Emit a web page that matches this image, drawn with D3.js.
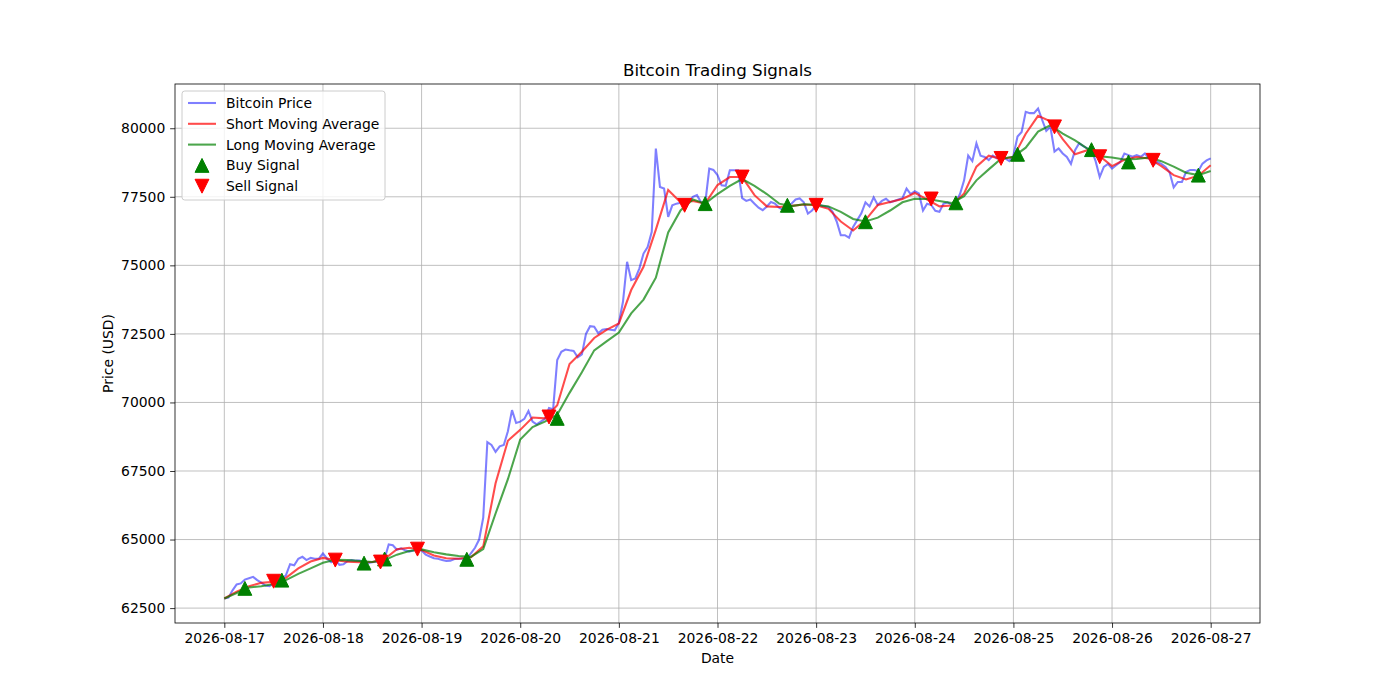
<!DOCTYPE html>
<html>
<head>
<meta charset="utf-8">
<script src="https://cdn.jsdelivr.net/npm/d3@7"></script>
<style>
body { margin: 0; background: #fff; }
text { font-family: "DejaVu Sans", sans-serif; fill: #000; }
</style>
</head>
<body>
<svg id="chart" width="1400" height="700"></svg>
<script>
// hourly data starting 2026-08-17 00:00
const startDate = new Date(2026, 7, 17, 0, 0)

const price = [
  62850, 62880, 63150, 63360, 63400, 63540, 63590, 63640, 63520, 63430, 63320, 63300,
  63400, 63450, 63550, 63700, 64100, 64060, 64300, 64370, 64250, 64330, 64300, 64300,
  64490, 64300, 64170, 64250, 64080, 64100, 64220, 64250, 64230, 64230, 64150, 64150,
  64170, 64200, 64180, 64300, 64820, 64790, 64630, 64680, 64610, 64560, 64600, 64650,
  64600, 64450, 64380, 64320, 64300, 64250, 64220, 64230, 64290, 64300, 64300, 64280,
  64500, 64700, 65000, 65800, 68550, 68450, 68200, 68400, 68450, 68950, 69720, 69250,
  69300, 69400, 69690, 69300, 69200, 69300, 69400, 69800, 69750, 71550, 71850, 71930,
  71900, 71880, 71650, 71750, 72500, 72780, 72760, 72520, 72650, 72680, 72650, 72630,
  72900, 73670, 75130, 74460, 74520, 74890, 75430, 75670, 76220, 79260, 77860, 77800,
  76770, 77190, 77250, 77280, 77220, 77300, 77500, 77560, 77300, 77250, 78530, 78480,
  78290, 77920, 77900, 78470, 78470, 78470, 77450, 77350, 77400, 77250, 77100, 77010,
  77150, 77310, 77250, 77100, 77010, 77190, 77250, 77400, 77440, 77300, 76890, 77000,
  77190, 77190, 77150, 77130, 76950, 76600, 76100, 76100, 76010, 76400, 76650, 76900,
  77300, 77150, 77480, 77200, 77350, 77430, 77300, 77350, 77400, 77450, 77800, 77600,
  77700, 77620, 77000, 77250, 77200, 76990, 76950, 77250, 77300, 77200, 77300, 77600,
  78100, 79000, 78800, 79450, 79000, 78950, 78840, 79000, 78900, 78950, 78900, 78800,
  79000, 79700, 79860, 80600, 80550, 80550, 80720, 80300, 79900, 80050, 79150, 79260,
  79080, 78950, 78700, 79200, 79450, 79350, 79260, 79220, 78800, 78220, 78590, 78700,
  78530, 78650, 78770, 79080, 79020, 78960, 79020, 78960, 79080, 78900, 78650, 78770,
  78700, 78590, 78400, 77840, 78040, 78040, 78400, 78480, 78480, 78440, 78710, 78830,
  78900
]

// moving averages read every 3 hours
const maStep = 3
const shortMA = [
  62850, 63100, 63300, 63420, 63460, 63600, 63950, 64200, 64330, 64250, 64190, 64170,
  64180, 64290, 64650, 64700, 64620, 64420, 64320, 64300, 64350, 64750, 67050, 68600,
  69000, 69450, 69420, 69900, 71400, 71850, 72350, 72650, 72880, 74100, 74950, 76300,
  77750, 77300, 77350, 77250, 77930, 78220, 78220, 77560, 77150, 77130, 77170, 77220,
  77190, 77060, 76600, 76270, 76650, 77200, 77310, 77420, 77640, 77400, 77150, 77180,
  77620, 78600, 79000, 78880, 78950, 79800, 80450, 80250, 79600, 79050, 79200, 78980,
  78620, 78850, 78950, 78900, 78620, 78290, 78130, 78270, 78650
]
const longMA = [
  62850, 63050, 63250, 63300, 63380, 63520, 63750, 63950, 64150, 64260, 64250, 64220,
  64180, 64250, 64450, 64580, 64640, 64540, 64460, 64400, 64370, 64650, 65950, 67200,
  68650, 69100, 69300, 69550, 70350, 71100, 71900, 72230, 72550, 73250, 73750, 74550,
  76200, 77000, 77400, 77250, 77600, 77900, 78150, 77900, 77600, 77250, 77160, 77230,
  77210, 77150, 76950, 76690, 76600, 76740, 77000, 77300, 77430, 77420, 77350, 77270,
  77520, 78100, 78500, 78890, 78960, 79290, 79880, 80110, 79800, 79560, 79260, 78980,
  78930, 78860, 78880, 78930, 78800, 78600, 78380, 78290, 78440
]

// signals: hour offset and value
const buyHours = [5, 14, 34, 39, 59, 81, 117, 137, 156, 178, 193, 211, 220, 237]
const buyValues = [63220, 63520, 64140, 64290, 64280, 69420, 77250, 77190, 76590, 77280, 79050, 79220, 78770, 78290]
const sellHours = [12, 27, 38, 47, 79, 112, 126, 144, 172, 189, 202, 213, 226]
const sellValues = [63480, 64250, 64180, 64650, 69470, 77190, 78220, 77190, 77420, 78900, 80050, 78960, 78830]

const seriesNames = ['Bitcoin Price', 'Short Moving Average', 'Long Moving Average', 'Buy Signal', 'Sell Signal']

const mLeft = 175, mRight = 1260, mTop = 84, mBottom = 623

const svg = d3.select('#chart')
const hourDate = h => d3.timeHour.offset(startDate, h)

const priceData = price.map((v, i) => ({ t: hourDate(i), v }))
const shortData = shortMA.map((v, i) => ({ t: hourDate(i * maStep), v }))
const longData = longMA.map((v, i) => ({ t: hourDate(i * maStep), v }))
const buyData = buyHours.map((h, i) => ({ t: hourDate(h), v: buyValues[i] }))
const sellData = sellHours.map((h, i) => ({ t: hourDate(h), v: sellValues[i] }))

// matplotlib style 5% margins
const tExt = d3.extent(priceData, d => d.t)
const tPad = (tExt[1] - tExt[0]) * 0.05
const x = d3.scaleTime()
  .domain([new Date(+tExt[0] - tPad), new Date(+tExt[1] + tPad)])
  .range([mLeft, mRight])

const allV = price.concat(shortMA, longMA)
const vMin = d3.min(allV), vMax = d3.max(allV)
const vPad = (vMax - vMin) * 0.05
const y = d3.scaleLinear()
  .domain([vMin - vPad, vMax + vPad])
  .range([mBottom, mTop])

const xTicks = d3.timeDay.range(startDate, d3.timeDay.offset(startDate, 11))
const yTicks = d3.range(62500, 80001, 2500)

// grid
const grid = svg.append('g')
grid.selectAll('.gx').data(xTicks).enter().append('line')
  .attr('x1', d => x(d)).attr('x2', d => x(d))
  .attr('y1', mTop).attr('y2', mBottom)
  .attr('stroke', '#b0b0b0').attr('stroke-width', 0.8)
grid.selectAll('.gy').data(yTicks).enter().append('line')
  .attr('x1', mLeft).attr('x2', mRight)
  .attr('y1', d => y(d)).attr('y2', d => y(d))
  .attr('stroke', '#b0b0b0').attr('stroke-width', 0.8)

// lines
const line = d3.line().x(d => x(d.t)).y(d => y(d.v))
svg.append('path').datum(priceData).attr('d', line)
  .attr('fill', 'none').attr('stroke', 'blue').attr('stroke-opacity', 0.5).attr('stroke-width', 2.08)
svg.append('path').datum(shortData).attr('d', line)
  .attr('fill', 'none').attr('stroke', 'red').attr('stroke-opacity', 0.7).attr('stroke-width', 2.08)
svg.append('path').datum(longData).attr('d', line)
  .attr('fill', 'none').attr('stroke', 'green').attr('stroke-opacity', 0.7).attr('stroke-width', 2.08)

// markers
const ms = 13.9
const upTri = `M0,${-ms / 2}L${ms / 2},${ms / 2}L${-ms / 2},${ms / 2}Z`
const downTri = `M0,${ms / 2}L${ms / 2},${-ms / 2}L${-ms / 2},${-ms / 2}Z`
svg.selectAll('.buy').data(buyData).enter().append('path')
  .attr('d', upTri)
  .attr('transform', d => `translate(${x(d.t)},${y(d.v)})`)
  .attr('fill', 'green').attr('stroke', 'green').attr('stroke-width', 1)
svg.selectAll('.sell').data(sellData).enter().append('path')
  .attr('d', downTri)
  .attr('transform', d => `translate(${x(d.t)},${y(d.v)})`)
  .attr('fill', 'red').attr('stroke', 'red').attr('stroke-width', 1)

// axes
const xAxis = svg.append('g').attr('transform', `translate(0,${mBottom})`)
  .call(d3.axisBottom(x).tickValues(xTicks).tickFormat(d3.timeFormat('%Y-%m-%d')).tickSize(4.86).tickPadding(4.86))
const yAxis = svg.append('g').attr('transform', `translate(${mLeft},0)`)
  .call(d3.axisLeft(y).tickValues(yTicks).tickFormat(d3.format('d')).tickSize(4.86).tickPadding(4.86))
;[xAxis, yAxis].forEach(a => {
  a.select('.domain').remove()
  a.selectAll('.tick line').attr('stroke', '#000').attr('stroke-width', 0.8)
  a.selectAll('.tick text').attr('font-size', 13.9).attr('font-family', 'DejaVu Sans')
})

// frame
svg.append('rect').attr('x', mLeft).attr('y', mTop)
  .attr('width', mRight - mLeft).attr('height', mBottom - mTop)
  .attr('fill', 'none').attr('stroke', '#000').attr('stroke-width', 0.8)

// titles
svg.append('text').attr('x', (mLeft + mRight) / 2).attr('y', 76)
  .attr('text-anchor', 'middle').attr('font-size', 16.7).text('Bitcoin Trading Signals')
svg.append('text').attr('x', (mLeft + mRight) / 2).attr('y', 663)
  .attr('text-anchor', 'middle').attr('font-size', 13.9).text('Date')
svg.append('text').attr('transform', `translate(113,${(mTop + mBottom) / 2}) rotate(-90)`)
  .attr('text-anchor', 'middle').attr('font-size', 13.9).text('Price (USD)')

// legend
const lg = svg.append('g').attr('transform', 'translate(182,91)')
lg.append('rect').attr('width', 203).attr('height', 109).attr('rx', 2.8)
  .attr('fill', '#fff').attr('fill-opacity', 0.8).attr('stroke', '#cccccc').attr('stroke-width', 1)
const legendStyles = [
  { type: 'line', color: 'blue', op: 0.5 },
  { type: 'line', color: 'red', op: 0.7 },
  { type: 'line', color: 'green', op: 0.7 },
  { type: 'up', color: 'green' },
  { type: 'down', color: 'red' }
]
seriesNames.forEach((name, i) => {
  const cy = 12 + i * 20.8
  const s = legendStyles[i]
  if (s.type === 'line') {
    lg.append('line').attr('x1', 6).attr('x2', 34).attr('y1', cy).attr('y2', cy)
      .attr('stroke', s.color).attr('stroke-opacity', s.op).attr('stroke-width', 2.08)
  } else {
    lg.append('path').attr('d', s.type === 'up' ? upTri : downTri)
      .attr('transform', `translate(20,${cy})`)
      .attr('fill', s.color).attr('stroke', s.color).attr('stroke-width', 1)
  }
  lg.append('text').attr('x', 44).attr('y', cy + 5).attr('font-size', 13.9).text(name)
})
</script>
</body>
</html>
